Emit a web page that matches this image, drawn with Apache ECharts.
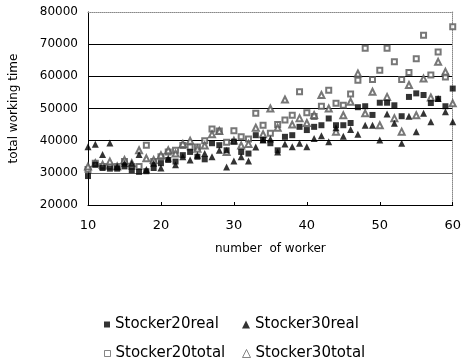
<!DOCTYPE html>
<html>
<head>
<meta charset="utf-8">
<script src="https://cdn.jsdelivr.net/npm/echarts@6/dist/echarts.min.js"></script>
<style>
  html, body { margin: 0; padding: 0; background: #fff; }
  #chart { width: 464px; height: 361px; }
</style>
</head>
<body>
<div id="chart"></div>
<script>
// number of worker, 10 .. 60
var workers = [];
for (var w = 10; w <= 60; w++) workers.push(w);

var stocker20real = [29000, 32500, 31500, 31300, 31300, 32000, 30800, 30300, 30500, 31500,
  33000, 34000, 33500, 35500, 36500, 35000, 34200, 39200, 38600, 37000,
  39700, 36500, 36000, 41700, 40200, 39200, 37000, 41200, 41700, 44300,
  43300, 44300, 44800, 46900, 44800, 44800, 45500, 50400, 50700, 48000,
  51800, 51800, 51000, 47600, 53600, 54700, 54200, 51700, 53000, 50700, 56200];

var stocker30real = [38100, 38900, 35700, 39300, 32000, 33000, 33000, 35700, 31000, 33000,
  31500, 34500, 32500, 35000, 34000, 35500, 36000, 35000, 37000, 31800,
  33700, 35000, 33700, 38000, 40200, 40500, 36500, 39000, 38100, 39200,
  38100, 40700, 41500, 39700, 44000, 41400, 43500, 42000, 44800, 44800,
  40200, 48300, 45400, 39200, 47600, 42800, 48500, 45900, 53100, 49000, 45900];

var stocker20total = [31000, 33000, 32000, 32000, 32000, 33500, 32000, 32000, 38600, 33500,
  35000, 36500, 37000, 38500, 38000, 38000, 40000, 43600, 43000, 39500,
  43100, 41200, 40500, 48500, 44800, 42300, 45000, 46400, 47900, 55200,
  48700, 47500, 50700, 55700, 51600, 51000, 54500, 58800, 68700, 59000,
  61900, 68700, 64500, 59000, 61200, 65500, 72800, 60400, 67600, 59800, 75400];

var stocker30total = [32000, 33000, 32500, 33500, 32000, 34000, 33000, 37000, 34500, 34000,
  35500, 37000, 36000, 39000, 40000, 37500, 38500, 42000, 43000, 36500,
  40000, 38500, 39000, 44000, 42000, 50000, 44000, 52800, 45000, 47000,
  45500, 48000, 54200, 50000, 42800, 47900, 52100, 60900, 48500, 55200,
  44800, 53600, 47000, 42800, 57300, 47900, 59300, 53400, 64500, 61400, 51600];

function pairs(vals) {
  return vals.map(function (v, i) { return [workers[i], v]; });
}

var font = 'DejaVu Sans';
var myChart = echarts.init(document.getElementById('chart'));

// one legend per entry so the two columns line up
function legendAt(name, icon, hollow, left, top, size) {
  var item = { name: name, icon: icon };
  if (hollow) {
    item.itemStyle = { color: '#fff', borderColor: '#666', borderWidth: 1 };
  }
  return {
    left: left, top: top, itemWidth: size, itemHeight: size, itemGap: 4,
    textStyle: { fontFamily: font, fontSize: 15, color: '#000' },
    data: [item]
  };
}

var option = {
  animation: false,
  backgroundColor: '#fff',
  grid: { left: 82, right: 9, top: 12, bottom: 156 },
  legend: [
    legendAt('Stocker20real', 'rect', false, 99, 312, 6),
    legendAt('Stocker30real', 'triangle', false, 237, 312, 8),
    legendAt('Stocker20total', 'rect', true, 99, 341, 6),
    legendAt('Stocker30total', 'triangle', true, 237, 341, 8)
  ],
  xAxis: [
    {
      type: 'value', min: 10, max: 60, interval: 10,
      name: 'number  of worker', nameLocation: 'middle', nameGap: 38,
      nameTextStyle: { fontFamily: font, fontSize: 12, color: '#000' },
      axisLine: { lineStyle: { color: '#000', width: 1 } },
      axisTick: { inside: true, length: 3, lineStyle: { color: '#000' } },
      axisLabel: { fontFamily: font, fontSize: 13, color: '#000', margin: 14 },
      splitLine: { show: false }
    },
    {
      type: 'value', min: 10, max: 60, position: 'top',
      axisLine: { lineStyle: { color: '#888', type: 'dotted' } },
      axisTick: { show: false }, axisLabel: { show: false },
      splitLine: { show: false }
    }
  ],
  yAxis: [
    {
      type: 'value', min: 20000, max: 80000, interval: 10000,
      name: 'total working time', nameLocation: 'middle', nameGap: 68,
      nameTextStyle: { fontFamily: font, fontSize: 12, color: '#000' },
      axisLine: { show: true, lineStyle: { color: '#000', width: 1 } },
      axisTick: { show: false },
      axisLabel: {
        fontFamily: font, fontSize: 12, color: '#000', margin: 10,
        formatter: function (v) { return String(v); }
      },
      splitLine: {
        show: true,
        lineStyle: { color: ['#000', '#666', '#000', '#000', '#000', '#000', 'transparent'], width: 1 }
      }
    },
    {
      type: 'value', min: 20000, max: 80000, position: 'right',
      axisLine: { show: true, lineStyle: { color: '#888', type: 'dotted' } },
      axisTick: { show: false }, axisLabel: { show: false },
      splitLine: { show: false }
    }
  ],
  series: [
    {
      name: 'Stocker20total', type: 'scatter', symbol: 'emptyRect', symbolSize: 5,
      itemStyle: { color: '#555', borderWidth: 1 },
      data: pairs(stocker20total)
    },
    {
      name: 'Stocker30total', type: 'scatter', symbol: 'emptyTriangle', symbolSize: 6,
      itemStyle: { color: '#555', borderWidth: 1 },
      data: pairs(stocker30total)
    },
    {
      name: 'Stocker20real', type: 'scatter', symbol: 'rect', symbolSize: 6,
      itemStyle: { color: '#000' },
      data: pairs(stocker20real)
    },
    {
      name: 'Stocker30real', type: 'scatter', symbol: 'triangle', symbolSize: 7,
      itemStyle: { color: '#000' },
      data: pairs(stocker30real)
    }
  ]
};

myChart.setOption(option);
</script>
</body>
</html>
